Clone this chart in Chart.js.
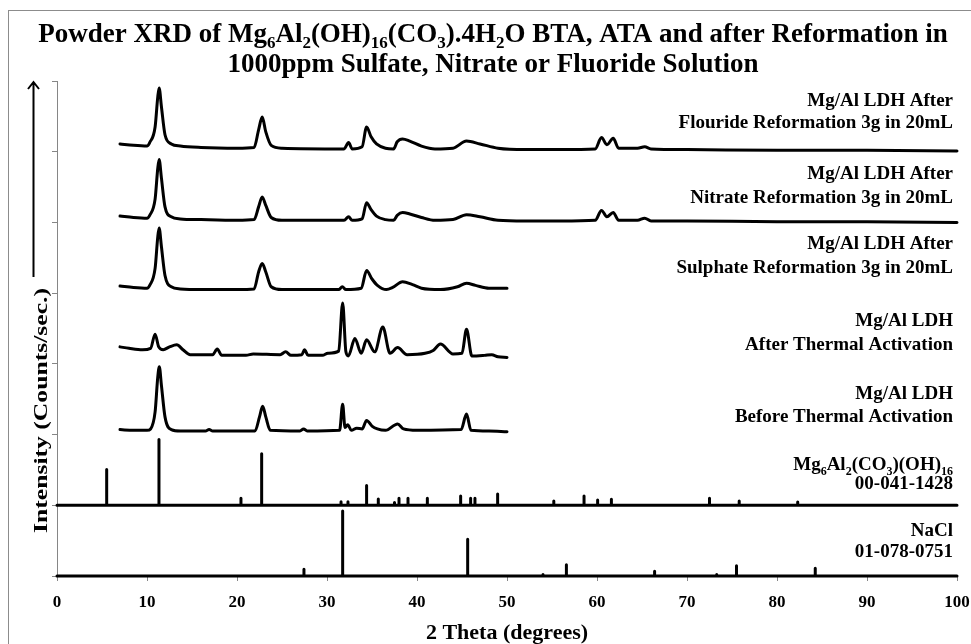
<!DOCTYPE html>
<html>
<head>
<meta charset="utf-8">
<script src="https://cdn.jsdelivr.net/npm/chart.js@4.4.1/dist/chart.umd.min.js"></script>
<style>
  html, body { margin: 0; padding: 0; background: #fff; }
  canvas { display: block; }
</style>
</head>
<body>
<canvas id="xrdChart" width="971" height="644"></canvas>
<script>
// data: [2theta, intensity] (curves already stacked with offsets)
const fluoride = [[7.0, 6.11], [8.5, 6.09], [10.0, 6.08], [10.3, 6.13], [10.9, 6.35], [11.2, 6.78], [11.35, 6.90], [11.6, 6.64], [12.0, 6.24], [12.7, 6.11], [13.7, 6.08], [16, 6.06], [20, 6.05], [21.9, 6.06], [22.4, 6.31], [22.8, 6.49], [23.2, 6.28], [23.8, 6.09], [25, 6.05], [31.9, 6.04], [32.4, 6.13], [32.8, 6.04], [33.9, 6.07], [34.4, 6.35], [34.9, 6.21], [35.5, 6.11], [36.5, 6.05], [37.4, 6.04], [37.8, 6.14], [38.4, 6.18], [39.2, 6.15], [40.5, 6.08], [42, 6.04], [44, 6.05], [45.5, 6.15], [47, 6.11], [49, 6.05], [52, 6.03], [56, 6.03], [59.8, 6.04], [60.5, 6.20], [61.1, 6.10], [61.8, 6.19], [62.4, 6.05], [64.5, 6.05], [65.3, 6.07], [66, 6.04], [70, 6.03], [80, 6.02], [90, 6.02], [100, 6.01]];
const nitrate = [[7.0, 5.09], [8.5, 5.07], [10.0, 5.06], [10.3, 5.10], [10.9, 5.33], [11.2, 5.77], [11.35, 5.89], [11.6, 5.63], [12.0, 5.22], [12.7, 5.08], [13.7, 5.05], [16, 5.04], [20, 5.03], [21.9, 5.04], [22.4, 5.22], [22.8, 5.36], [23.2, 5.24], [23.8, 5.07], [25, 5.03], [31.9, 5.03], [32.4, 5.08], [32.8, 5.03], [33.9, 5.05], [34.4, 5.28], [34.9, 5.18], [35.5, 5.09], [36.5, 5.04], [37.4, 5.03], [37.8, 5.10], [38.4, 5.14], [39.2, 5.12], [40.5, 5.07], [42, 5.03], [44, 5.04], [45.5, 5.11], [47, 5.08], [49, 5.03], [52, 5.02], [56, 5.02], [59.8, 5.03], [60.5, 5.17], [61.1, 5.08], [61.8, 5.14], [62.4, 5.03], [64.5, 5.03], [65.3, 5.06], [66, 5.02], [70, 5.02], [80, 5.01], [90, 5.01], [100, 5.00]];
const sulphate = [[7.0, 4.10], [8.5, 4.08], [10.0, 4.07], [10.3, 4.11], [10.9, 4.35], [11.2, 4.80], [11.35, 4.92], [11.6, 4.66], [12.0, 4.25], [12.7, 4.09], [13.7, 4.06], [16, 4.05], [20, 4.05], [21.9, 4.06], [22.4, 4.30], [22.8, 4.42], [23.2, 4.30], [23.8, 4.09], [25, 4.05], [31.3, 4.05], [31.7, 4.09], [32.1, 4.05], [33.8, 4.07], [34.4, 4.32], [35.0, 4.20], [35.6, 4.11], [36.6, 4.05], [37.3, 4.08], [38.4, 4.16], [39.5, 4.12], [40.5, 4.07], [42.6, 4.05], [44.5, 4.09], [45.5, 4.14], [46.5, 4.11], [48, 4.07], [50, 4.07]];
const afterTA = [[7.0, 3.24], [8.0, 3.22], [9.5, 3.20], [10.4, 3.22], [10.9, 3.42], [11.3, 3.24], [11.8, 3.20], [12.5, 3.24], [13.3, 3.27], [14.0, 3.20], [14.8, 3.13], [17.3, 3.13], [17.8, 3.21], [18.3, 3.12], [21.0, 3.12], [21.8, 3.14], [24.8, 3.13], [25.4, 3.17], [26.0, 3.12], [27.2, 3.13], [27.5, 3.20], [27.9, 3.12], [29.5, 3.12], [30.1, 3.15], [31.3, 3.18], [31.74, 3.86], [32.1, 3.17], [32.37, 3.11], [33.1, 3.36], [33.8, 3.15], [34.4, 3.34], [35.3, 3.17], [36.2, 3.52], [37.0, 3.15], [37.85, 3.23], [38.9, 3.13], [40.9, 3.15], [41.8, 3.19], [42.6, 3.28], [44.0, 3.14], [45.0, 3.15], [45.5, 3.49], [46.1, 3.11], [47.5, 3.12], [48.3, 3.13], [49.0, 3.10], [50.0, 3.09]];
const beforeTA = [[7.0, 2.07], [8.5, 2.06], [10.0, 2.06], [10.4, 2.08], [10.9, 2.32], [11.2, 2.82], [11.37, 2.96], [11.6, 2.70], [12.0, 2.25], [12.7, 2.07], [13.7, 2.05], [16.5, 2.05], [16.9, 2.07], [17.3, 2.05], [22.0, 2.05], [22.5, 2.25], [22.85, 2.40], [23.2, 2.25], [23.7, 2.06], [27.0, 2.05], [27.4, 2.08], [27.8, 2.05], [31.4, 2.06], [31.74, 2.43], [32.0, 2.10], [32.3, 2.14], [32.7, 2.06], [33.3, 2.09], [33.9, 2.08], [34.4, 2.20], [35.0, 2.12], [35.6, 2.08], [36.5, 2.06], [37.85, 2.15], [38.5, 2.08], [40, 2.06], [44.9, 2.07], [45.5, 2.29], [46.0, 2.06], [48, 2.05], [50, 2.04]];

// reference patterns (stick positions and heights)
const ldhRefPos = [5.52, 11.33, 20.44, 22.74, 31.56, 32.33, 34.4, 35.7, 37.5, 38.0, 39.0, 41.15, 44.85, 45.96, 46.44, 48.96, 55.2, 58.56, 60.07, 61.6, 72.5, 75.8, 82.3];
const ldhRefHt  = [0.505, 0.93, 0.10, 0.73, 0.05, 0.05, 0.28, 0.09, 0.04, 0.10, 0.10, 0.10, 0.13, 0.10, 0.10, 0.16, 0.06, 0.13, 0.075, 0.085, 0.10, 0.06, 0.045];
const ldhRefBase = 1.0;
const naclRefPos = [27.44, 31.74, 45.63, 54.0, 56.6, 66.4, 73.3, 75.5, 84.25];
const naclRefHt  = [0.095, 0.92, 0.52, 0.02, 0.16, 0.066, 0.02, 0.146, 0.11];
const naclRefBase = 0;

const xTicks = [0, 10, 20, 30, 40, 50, 60, 70, 80, 90, 100];

// right-hand labels: [value on y axis, parts]; parts = [text, isSubscript]
const seriesLabels = [
  [6.64, [['Mg/Al LDH After', 0]]],
  [6.33, [['Flouride Reformation 3g in 20mL', 0]]],
  [5.61, [['Mg/Al LDH After', 0]]],
  [5.28, [['Nitrate Reformation 3g in 20mL', 0]]],
  [4.62, [['Mg/Al LDH After', 0]]],
  [4.29, [['Sulphate Reformation 3g in 20mL', 0]]],
  [3.54, [['Mg/Al LDH', 0]]],
  [3.20, [['After Thermal Activation', 0]]],
  [2.50, [['Mg/Al LDH', 0]]],
  [2.18, [['Before Thermal Activation', 0]]],
  [1.50, [['Mg', 0], ['6', 1], ['Al', 0], ['2', 1], ['(CO', 0], ['3', 1], [')(OH)', 0], ['16', 1]]],
  [1.23, [['00-041-1428', 0]]],
  [0.57, [['NaCl', 0]]],
  [0.27, [['01-078-0751', 0]]]
];

const titleLines = [
  [['Powder XRD of Mg', 0], ['6', 1], ['Al', 0], ['2', 1], ['(OH)', 0], ['16', 1], ['(CO', 0], ['3', 1], [').4H', 0], ['2', 1], ['O BTA, ATA and after Reformation in', 0]],
  [['1000ppm Sulfate, Nitrate or Fluoride Solution', 0]]
];

const serif = "'Liberation Serif', 'Times New Roman', serif";

function stickPath(pos, ht, base) {
  const pts = [[0, base]];
  pos.forEach((p, i) => {
    pts.push([p, base], [p, base + ht[i]], [p, base]);
  });
  pts.push([100, base]);
  return pts;
}

function drawRich(ctx, parts, x, y, size, align) {
  const subSize = Math.round(size * 0.64);
  let w = 0;
  parts.forEach(p => {
    ctx.font = 'bold ' + (p[1] ? subSize : size) + 'px ' + serif;
    w += ctx.measureText(p[0]).width;
  });
  let cx = align === 'right' ? x - w : (align === 'center' ? x - w / 2 : x);
  ctx.textAlign = 'left';
  ctx.textBaseline = 'alphabetic';
  parts.forEach(p => {
    ctx.font = 'bold ' + (p[1] ? subSize : size) + 'px ' + serif;
    ctx.fillText(p[0], cx, y + (p[1] ? Math.round(size * 0.24) : 0));
    cx += ctx.measureText(p[0]).width;
  });
}

const decor = {
  id: 'decor',
  beforeDraw(chart) {
    const c = chart.ctx;
    c.save();
    c.fillStyle = '#fff';
    c.fillRect(0, 0, chart.width, chart.height);
    c.strokeStyle = '#8c8c8c';
    c.lineWidth = 1;
    c.strokeRect(8.5, 10.5, 2000, 2000);
    c.restore();
  },
  afterDraw(chart) {
    const c = chart.ctx;
    const xs = chart.scales.x, ys = chart.scales.y;
    c.save();
    c.fillStyle = '#000';
    // title
    drawRich(c, titleLines[0], 493, 42, 27, 'center');
    drawRich(c, titleLines[1], 493, 72, 27, 'center');
    // series labels
    const rx = xs.getPixelForValue(100) - 4;
    seriesLabels.forEach(l => drawRich(c, l[1], rx, ys.getPixelForValue(l[0]), 19, 'right'));
    // y axis title with arrow
    c.save();
    c.translate(46.5, 533);
    c.rotate(-Math.PI / 2);
    c.font = 'bold 18px ' + serif;
    const txt = 'Intensity (Counts/sec.)';
    const tw = c.measureText(txt).width;
    c.scale(245 / tw, 1);
    c.textAlign = 'left';
    c.textBaseline = 'alphabetic';
    c.fillText(txt, 0, 0);
    c.restore();
    c.strokeStyle = '#000';
    c.lineWidth = 2;
    c.beginPath();
    c.moveTo(33.5, 277);
    c.lineTo(33.5, 82);
    c.moveTo(28, 89);
    c.lineTo(33.5, 82);
    c.lineTo(39, 89);
    c.stroke();
    c.restore();
  }
};

function trace(data, smooth) {
  const ds = { data: data, borderColor: '#000', borderWidth: 3, pointRadius: 0, tension: 0, clip: false, borderJoinStyle: 'round', borderCapStyle: 'round' };
  if (smooth) ds.cubicInterpolationMode = 'monotone';
  return ds;
}

const ctx = document.getElementById('xrdChart').getContext('2d');
const xrdChart = new Chart(ctx, {
  type: 'line',
  data: {
    datasets: [
      trace(fluoride, true),
      trace(nitrate, true),
      trace(sulphate, true),
      trace(afterTA, true),
      trace(beforeTA, true),
      trace(stickPath(ldhRefPos, ldhRefHt, ldhRefBase), false),
      trace(stickPath(naclRefPos, naclRefHt, naclRefBase), false)
    ]
  },
  options: {
    responsive: false,
    animation: false,
    events: [],
    layout: { padding: { top: 81, right: 14, left: 0, bottom: 0 } },
    plugins: {
      legend: { display: false },
      title: { display: false },
      tooltip: { enabled: false }
    },
    scales: {
      x: {
        type: 'linear',
        min: 0,
        max: 100,
        afterBuildTicks: s => { s.ticks = xTicks.map(v => ({ value: v })); },
        ticks: { color: '#000', font: { family: serif, size: 17, weight: 'bold' }, padding: 11, maxRotation: 0 },
        grid: { drawOnChartArea: false, color: '#868686', tickLength: 5 },
        border: { color: '#868686', width: 1 },
        title: { display: true, text: '2 Theta (degrees)', color: '#000', font: { family: serif, size: 22, weight: 'bold', lineHeight: 1.0 }, padding: { top: 0, bottom: 0 } },
        afterFit: s => { s.height = 68; s.paddingLeft = 0; s.paddingRight = 0; }
      },
      y: {
        min: 0,
        max: 7,
        ticks: { stepSize: 1, display: false },
        grid: { drawOnChartArea: false, color: '#868686', tickLength: 5 },
        border: { color: '#868686', width: 1 },
        afterFit: s => { s.width = 57; }
      }
    }
  },
  plugins: [decor]
});
</script>
</body>
</html>
